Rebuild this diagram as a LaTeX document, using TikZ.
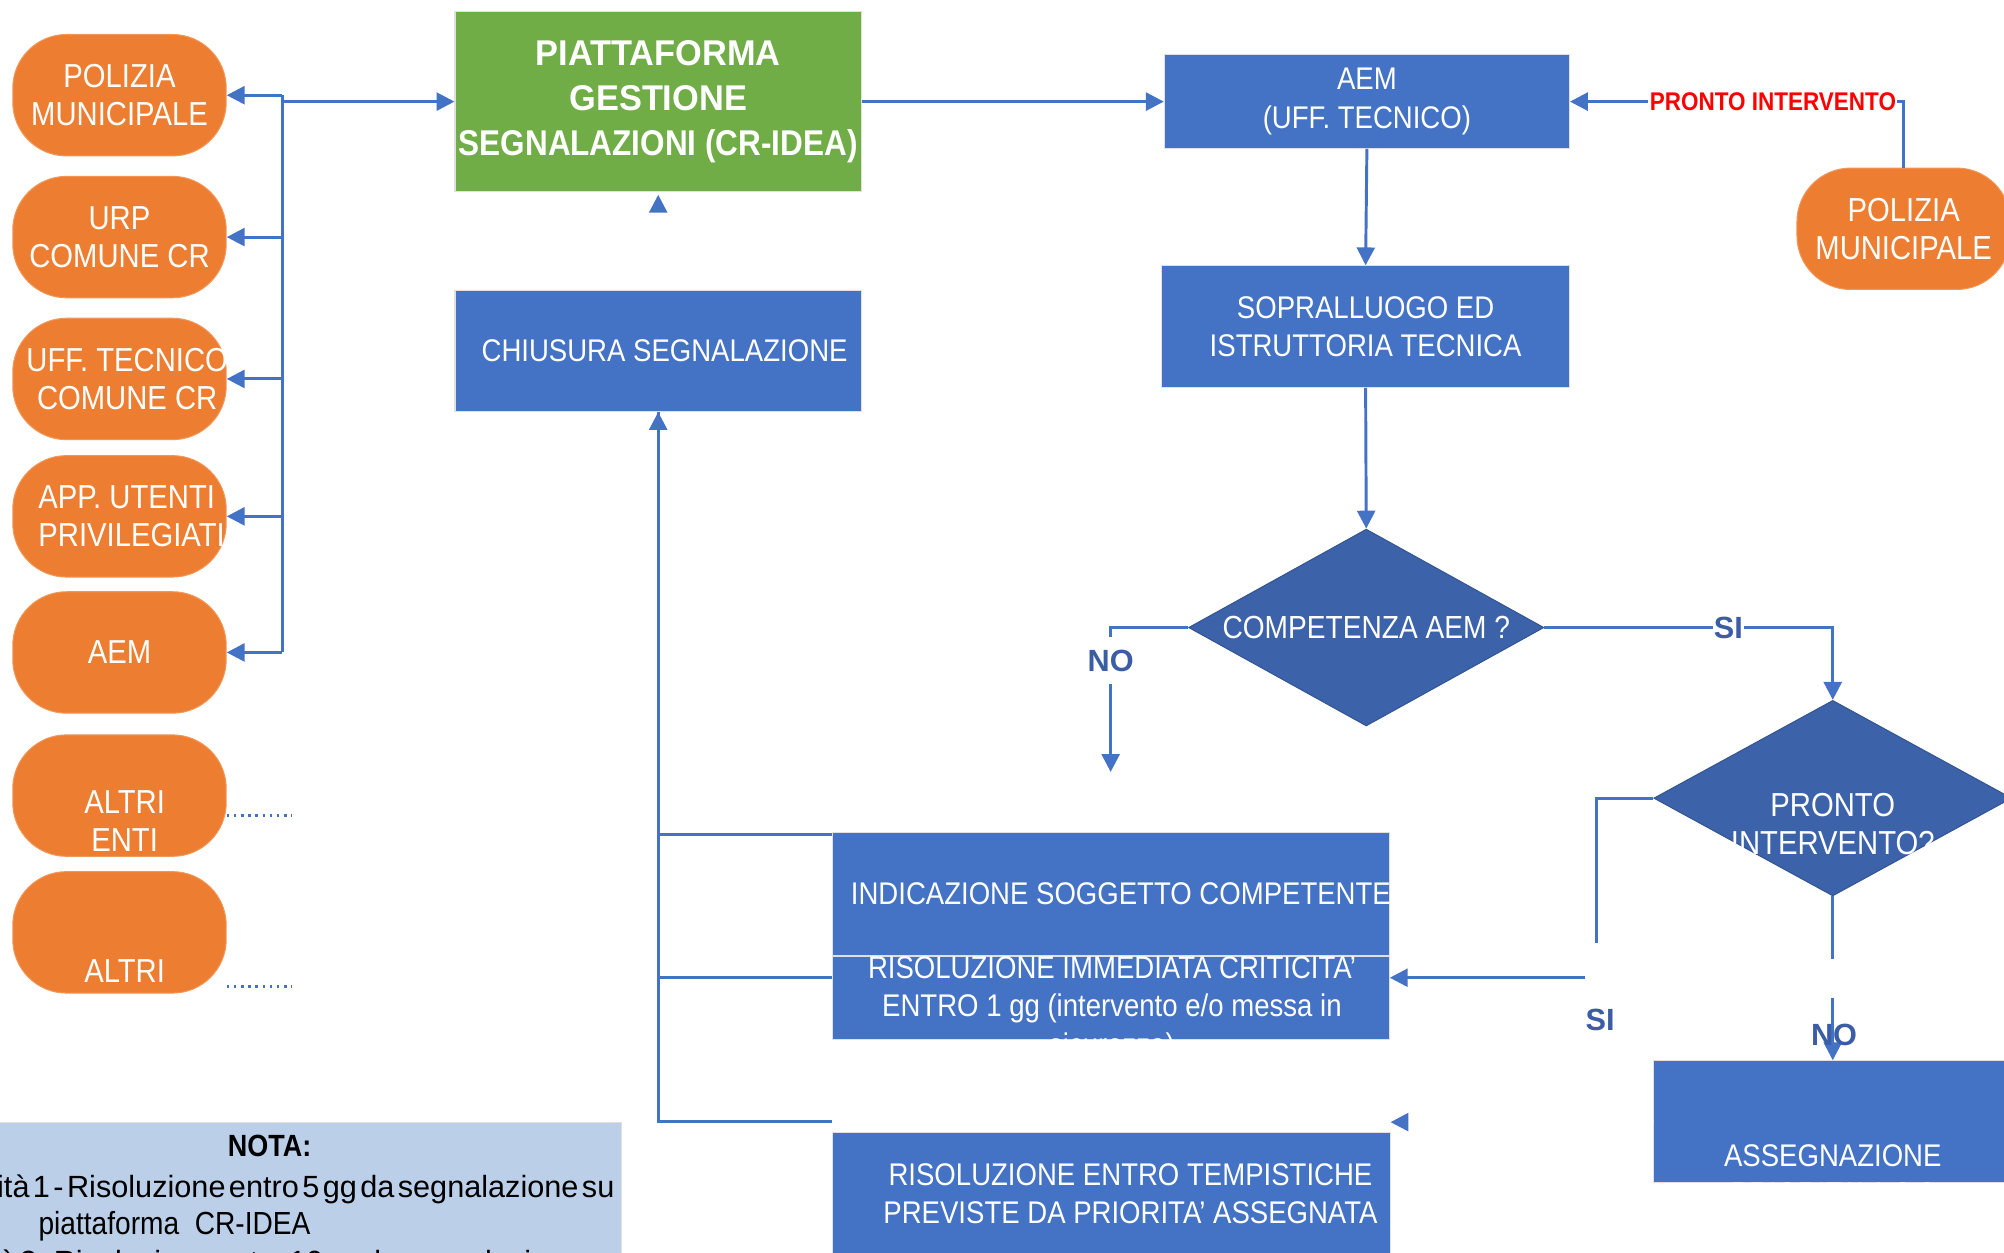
\documentclass[tikz,border=0pt]{standalone}
\usepackage{fontspec}
\setmainfont{Liberation Sans}[FakeStretch=0.88]
\newfontfamily\labelfont{Liberation Sans}
\newfontfamily\widebold{Liberation Sans}[FakeStretch=0.96]
\newfontfamily\notafont{Liberation Sans}[WordSpace=0.4]
\usetikzlibrary{positioning,shapes.geometric,arrows.meta}

\definecolor{pillorange}{HTML}{ED7D31}
\definecolor{platgreen}{HTML}{70AD47}
\definecolor{boxblue}{HTML}{4472C4}
\definecolor{diamblue}{HTML}{3C63AA}
\definecolor{lineblue}{HTML}{4472C4}
\definecolor{labelblue}{HTML}{3B5DA5}
\definecolor{notafill}{HTML}{BCCFE9}

\tikzset{
  pill/.style={draw=pillorange!80!white, line width=0.8pt, fill=pillorange, rounded corners=42pt,
    minimum width=167pt, minimum height=95pt, inner sep=0pt, text=white, align=center,
    font=\fontsize{26}{30}\selectfont},
  pilltxt/.style={text=white, align=center, font=\fontsize{26}{30}\selectfont},
  bbox/.style={draw=black!12, line width=0.8pt, fill=boxblue, inner sep=0pt, text=white,
    align=center, font=\fontsize{24.5}{30}\selectfont},
  boxtxt/.style={text=white, align=center, font=\fontsize{24.5}{30}\selectfont},
  decision/.style={diamond, draw=diamblue!85!black, line width=0.8pt, fill=diamblue, inner sep=0pt},
  flowline/.style={draw=lineblue, line width=2.3pt},
  flow/.style={flowline, -{Triangle[length=14pt,width=14pt]}},
  ghost/.style={draw=white, line width=2.3pt, -{Triangle[length=14pt,width=14pt,color=lineblue]}},
  dots/.style={draw=lineblue, line width=2.5pt, dash pattern=on 2pt off 3.6pt},
  yesno/.style={font={\labelfont\bfseries\fontsize{24}{28}\selectfont}, text=labelblue,
    fill=white, inner xsep=1pt, inner ysep=10pt},
  notatxt/.style={text=black, font=\fontsize{25}{30}\selectfont, inner sep=0pt}
}

\begin{document}
\begin{tikzpicture}[x=1pt, y=-1pt]
  \useasboundingbox (0,0) rectangle (1568,980);
  \clip (0,0) rectangle (1568,980);

  % Sources of the reports
  \foreach \nm/\yy/\txt in {pm/74.5/{POLIZIA\\MUNICIPALE}, urp/185.5/{URP\\COMUNE CR}, aemp/510.5/{AEM}} {
    \node[pill] (\nm) at (93.5,\yy) {\txt};
  }
  \node[pill, label={[pilltxt, xshift=6pt]center:{UFF. TECNICO\\COMUNE CR}}] (uff) at (93.5,296.5) {};
  \node[pill, label={[pilltxt, align=left, xshift=9.5pt]center:{APP. UTENTI\\PRIVILEGIATI}}] (app) at (93.5,404) {};
  \node[pill, label={[pilltxt, xshift=4pt, yshift=-20pt]center:{ALTRI\\ENTI}}] (altrienti) at (93.5,622.5) {};
  \node[pill, label={[pilltxt, xshift=4pt, yshift=-45.5pt]center:{ALTRI\\UTENTI}}] (altriut) at (93.5,729.5) {};

  \draw[dots] ([yshift=-15.5pt]altrienti.east) -- ++(51,0);
  \draw[dots] ([yshift=-42.5pt]altriut.east) -- ++(51,0);

  % Platform and closing
  \node[bbox, draw=black!12, fill=platgreen, minimum width=318pt, minimum height=141pt,
    font=\bfseries\fontsize{28}{35.5}\selectfont] (crfix) at (515,79.5)
    {{\widebold PIATTAFORMA}\\{\widebold GESTIONE}\\SEGNALAZIONI (CR-IDEA)};
  \node[bbox, minimum width=318pt, minimum height=95pt,
    label={[boxtxt, xshift=5pt]center:{CHIUSURA SEGNALAZIONE}}] (chius) at (515,274.5) {};

  % Bus to the sources
  \coordinate (bus) at (221,0);
  \draw[flowline] (bus |- pm.east) -- (bus |- aemp.east);
  \foreach \p in {pm,urp,uff,app,aemp}
    \draw[flow] (bus |- \p.east) -- (\p.east);
  \draw[flow] (bus |- crfix.west) -- (crfix.west);
  \draw[ghost, shorten >=2pt, shorten <=1pt] (chius.north) -- (crfix.south);

  % AEM side
  \node[bbox, minimum width=317pt, minimum height=73pt] (aemuff) at (1069.5,79.5) {AEM\\(UFF. TECNICO)};
  \node[bbox, minimum width=319pt, minimum height=95pt] (sopr) at (1068.5,255.5)
    {SOPRALLUOGO ED\\ISTRUTTORIA TECNICA};
  \node[pill] (polr) at (1489.5,179) {POLIZIA\\MUNICIPALE};

  \draw[flow] (crfix.east) -- (aemuff.west);
  \draw[flow] (aemuff.south) -- (sopr.north);
  \draw[flow] (polr.north) |- node[pos=0.696, fill=white, inner sep=1pt, text=red,
    font=\bfseries\fontsize{20}{24}\selectfont] (pronto lbl) {PRONTO INTERVENTO} (aemuff.east);

  % Decisions
  \node[decision, minimum width=278pt, minimum height=154pt,
    label={[boxtxt, font=\fontsize{25}{30}\selectfont]center:{COMPETENZA AEM ?}}] (comp) at (1069,491) {};
  \node[decision, minimum width=280pt, minimum height=153pt,
    label={[boxtxt, font=\fontsize{26}{30}\selectfont, yshift=-20.5pt]center:{PRONTO\\INTERVENTO?}}] (pronto) at (1434,624.5) {};

  \draw[flow] (sopr.south) -- (comp.north);
  \coordinate (noend) at (869,604);
  \draw[flow] (comp.west) -| node[yesno, pos=0.615] (noleft) {NO} (noend);
  \draw[flow] (comp.east) -| node[yesno, pos=0.319] (sitop) {SI} (pronto.north);

  % Outcomes
  \node[bbox, minimum width=436pt, minimum height=97pt,
    label={[boxtxt, xshift=8pt]center:{INDICAZIONE SOGGETTO COMPETENTE}}] (indic) at (869,699.5) {};
  \node[bbox, minimum width=436pt, minimum height=65pt,
    label={[boxtxt, yshift=-9pt, xshift=1pt]center:{RISOLUZIONE IMMEDIATA CRITICITA’\\ENTRO 1 gg (intervento e/o messa in\\sicurezza)}}] (risimm) at (869,780.5) {};
  \node[bbox, minimum width=437pt, minimum height=96pt,
    label={[boxtxt, xshift=15pt]center:{RISOLUZIONE ENTRO TEMPISTICHE\\PREVISTE DA PRIORITA’ ASSEGNATA}}] (temp) at (869.5,934) {};
  \node[bbox, minimum width=280pt, minimum height=95pt,
    label={[boxtxt, yshift=-41.5pt]center:{ASSEGNAZIONE\\PRIORITA’ 1-2-3}}] (assegn) at (1434,877.5) {};

  \coordinate (sicut) at (1249,738);
  \coordinate (sigo) at (1240,765);
  \draw[flowline] (pronto.west) -| (sicut);
  \draw[flow] (sigo) -- (sigo -| risimm.east);
  \node[yesno, fill=none] (siright) at (1252,798) {SI};

  \coordinate (nocut) at (1434,750);
  \coordinate (nogo) at (1434,781);
  \draw[flowline] (pronto.south) -- (nocut);
  \draw[flow] (nogo) -- (assegn.north);
  \node[yesno, fill=none] (noright) at (1435,810) {NO};

  \coordinate (tempin) at (1088,878);
  \draw[ghost] (assegn.west) -- (tempin);

  % Back to the closing
  \draw[flowline] ([yshift=-2pt]indic.north west) -| (chius.south);
  \draw[flowline] ([yshift=15.5pt]risimm.west) -| (chius.south);
  \draw[flow] ([yshift=8pt]temp.north west) -| (chius.south);

  % Note
  \node[draw=black!12, line width=0.8pt, fill=notafill, minimum width=550pt, minimum height=124pt] (nota) at (211,940) {};
  \node[notatxt, font=\bfseries\fontsize{24}{30}\selectfont] (notatit) at (211,897) {NOTA:};
  \node[notatxt, font=\notafont\fontsize{24}{30}\selectfont, anchor=base east] (nota1) at (481,937)
    {Priorità 1 - Risoluzione entro 5 gg da segnalazione su};
  \node[notatxt, anchor=base west] (nota2) at (30,966) {piattaforma\ \ CR-IDEA};
  \node[notatxt, font=\notafont\fontsize{24}{30}\selectfont, anchor=base east] (nota3) at (484,996)
    {Priorità 2 - Risoluzione entro 10 gg da segnalazione su};
\end{tikzpicture}
\end{document}
